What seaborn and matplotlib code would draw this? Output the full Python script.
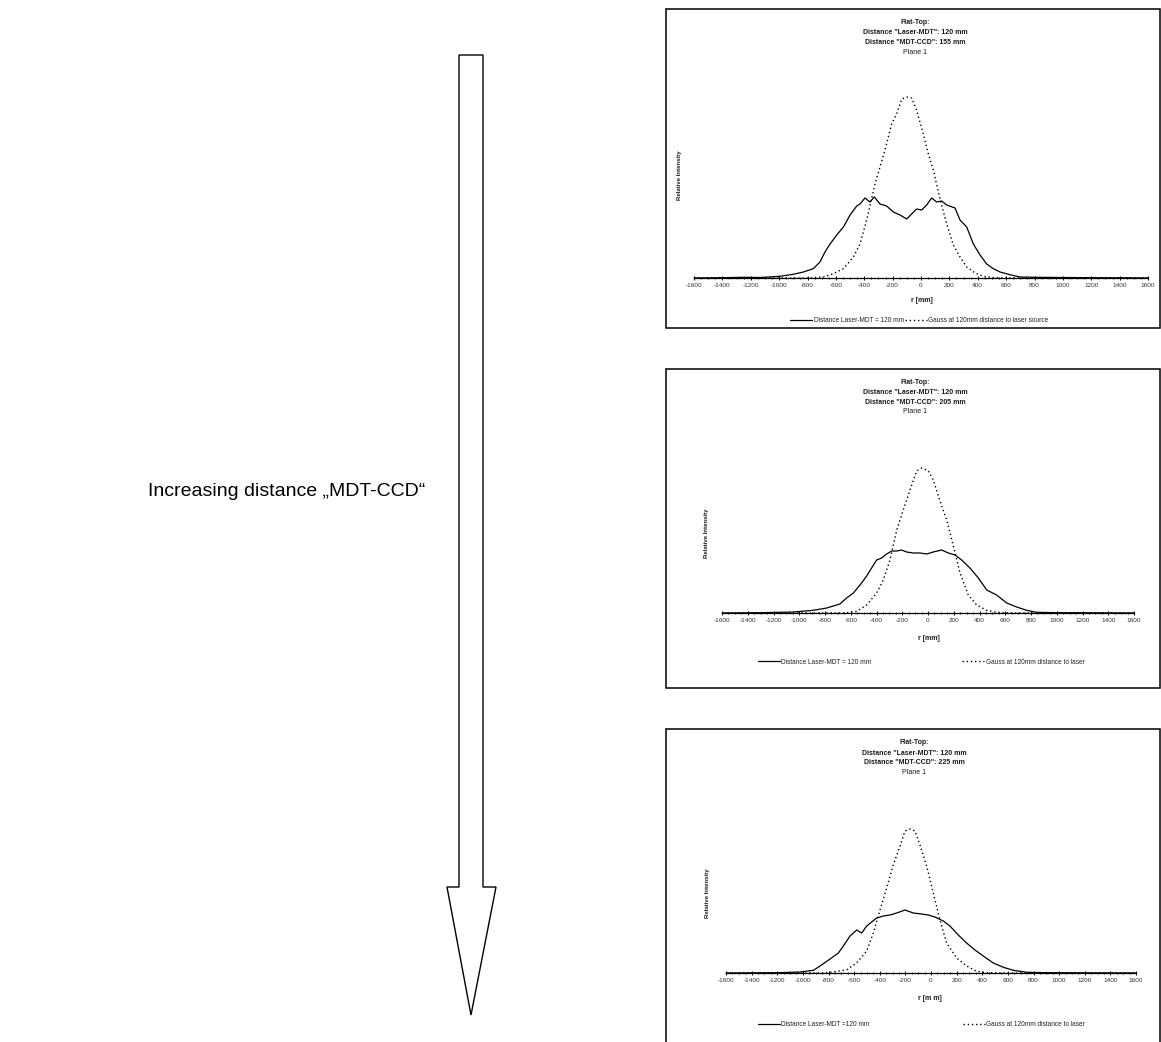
import numpy as np
import pandas as pd
import matplotlib
matplotlib.use("Agg")
import matplotlib.pyplot as plt
import seaborn as sns
from matplotlib.patches import Polygon, Rectangle
from matplotlib.ticker import MultipleLocator
from matplotlib.legend import Legend

# ---------------- data ----------------
# r [mm] and relative intensity (arbitrary units) per panel
p1_solid_r = [-1600, -1400, -1250, -1135, -994, -900, -829, -759, -712, -677, -641, -594, -547, -500,
              -453, -430, -395, -360, -329, -289, -242, -195, -148, -101, -66, -31, 5, 40, 75, 110,
              146, 181, 240, 275, 322, 369, 416, 463, 510, 557, 627, 698, 800, 1000, 1200, 1400, 1600]
p1_solid_i = [0, 0.3, 0.7, 0.5, 1.7, 3.7, 6, 9.3, 16, 26, 34, 43, 51, 63,
              72, 74, 80, 76, 81, 74, 72, 66, 63, 59, 64, 69, 68, 73, 80, 76,
              77, 73, 70, 58, 51, 34, 23, 14, 9.3, 6, 3.3, 1, 0.7, 0.5, 0.3, 0.2, 0]
p1_gauss_r = [-1600, -800, -688, -618, -547, -477, -430, -383, -324, -289, -254, -207, -172, -136,
              -101, -66, -31, 16, 52, 87, 134, 181, 228, 275, 322, 381, 439, 510, 600, 1600]
p1_gauss_i = [0, 0, 1, 4.3, 9.3, 21, 34, 58, 94, 111, 128, 154, 164, 179,
              181, 180, 168, 144, 124, 108, 79, 54, 33, 21, 11, 5, 1.7, 0.3, 0, 0]

p2_solid_r = [-1600, -1300, -1046, -891, -787, -684, -632, -580, -528, -476, -438, -399, -360, -321,
              -282, -243, -205, -166, -114, -62, -10, 41, 106, 158, 210, 261, 326, 391, 456, 533,
              611, 689, 766, 844, 1000, 1600]
p2_solid_i = [0, 0.3, 1, 2.7, 5, 9, 15, 20, 28, 37, 45, 53, 55, 59,
              62, 62, 63, 61, 60, 60, 59, 61, 63, 60, 58, 53, 45, 35, 23, 18,
              10, 6, 2.7, 0.7, 0.3, 0]
p2_gauss_r = [-1600, -650, -554, -476, -399, -347, -295, -243, -192, -140, -88, -49, 3, 41,
              93, 145, 197, 249, 313, 378, 456, 533, 650, 1600]
p2_gauss_i = [0, 0, 1.7, 8, 20, 33, 53, 83, 103, 123, 142, 145, 142, 133,
              112, 93, 67, 40, 18, 8, 2.7, 0.7, 0, 0]

p3_solid_r = [-1600, -1200, -1022, -918, -866, -788, -723, -684, -632, -580, -541, -502, -463, -424,
              -372, -320, -268, -203, -138, -73, -21, 31, 96, 148, 213, 278, 343, 408, 486, 565,
              643, 747, 900, 1600]
p3_solid_i = [0, 0.3, 1, 2.7, 7, 14, 20, 27, 37, 43, 40, 47, 51, 55,
              57, 58, 60, 63, 60, 59, 58, 56, 52, 47, 38, 30, 23, 17, 10, 5.7,
              2.7, 0.7, 0.3, 0]
p3_gauss_r = [-1600, -850, -762, -658, -580, -502, -450, -398, -346, -294, -242, -203, -164, -125,
              -86, -34, 18, 70, 122, 200, 278, 356, 434, 550, 1600]
p3_gauss_i = [0, 0, 1, 3.3, 10, 22, 40, 63, 85, 108, 127, 142, 144, 142,
              128, 107, 80, 53, 30, 15, 7, 1.7, 0.3, 0, 0]

mdt_ccd = ["155", "205", "225"]
solid_labels = ["Distance Laser-MDT = 120 mm", "Distance Laser-MDT = 120 mm", "Distance Laser-MDT =120 mm"]
gauss_labels = ["Gauss at 120mm distance to laser source", "Gauss at 120mm distance to laser",
                "Gauss at 120mm distance to laser"]
xlabels = ["r [mm]", "r [mm]", "r [m m]"]
xticks = list(range(-1600, 1601, 200))

# ---------------- figure ----------------
sns.set_theme(style="white")
plt.rcParams['font.family'] = ['Liberation Sans', 'DejaVu Sans']
plt.rcParams['axes.unicode_minus'] = False

W, H = 1161, 1042
fig = plt.figure(figsize=(W / 100, H / 100), dpi=100)
fig.patch.set_facecolor("white")


def fx(px):
    return px / W


def fy(py):
    return 1 - py / H


# layout (pixels): axis x0, x1, baseline y, top y, box top, box bottom,
# title y's, xlabel pos, ylabel pos, legend positions
layouts = [
    dict(x0=694, x1=1148, yb=278, yt=60, btop=9, bbot=328, tx=915, ty=[22.7, 32.7, 42.3, 52],
         xl=(922, 301), yl=(679, 175), leg1=(790, 321), leg2=(905, 321)),
    dict(x0=722, x1=1134, yb=613, yt=440, btop=369, bbot=688, tx=915, ty=[382.7, 392.7, 402.3, 411.7],
         xl=(929, 638), yl=(707, 533), leg1=(758, 662), leg2=(962, 662)),
    dict(x0=726, x1=1136, yb=973, yt=800, btop=729, bbot=1080, tx=914, ty=[742.7, 753.3, 762.3, 772],
         xl=(930, 998), yl=(708, 893), leg1=(758, 1025), leg2=(963, 1025)),
]

series = [
    (p1_solid_r, p1_solid_i, p1_gauss_r, p1_gauss_i),
    (p2_solid_r, p2_solid_i, p2_gauss_r, p2_gauss_i),
    (p3_solid_r, p3_solid_i, p3_gauss_r, p3_gauss_i),
]

dot_style = (0, (1, 2))
txt_col = "#1a1a1a"

for k, (lay, (sr, si, gr, gi)) in enumerate(zip(layouts, series)):
    # panel frame
    fig.add_artist(Rectangle((fx(666), fy(lay["bbot"])), fx(1160) - fx(666),
                             (lay["bbot"] - lay["btop"]) / H, transform=fig.transFigure,
                             fill=False, edgecolor="black", lw=1.1))
    ax = fig.add_axes([fx(lay["x0"]), fy(lay["yb"]), fx(lay["x1"]) - fx(lay["x0"]),
                       (lay["yb"] - lay["yt"]) / H])
    ax.set_facecolor("none")
    df_s = pd.DataFrame({"r": sr, "I": si})
    df_g = pd.DataFrame({"r": gr, "I": gi})
    sns.lineplot(data=df_s, x="r", y="I", ax=ax, color="black", lw=0.9, estimator=None, sort=False)
    sns.lineplot(data=df_g, x="r", y="I", ax=ax, color="black", lw=1.0, estimator=None, sort=False,
                 linestyle=dot_style)
    for ln in ax.lines:
        ln.set_clip_on(False)
    ax.set_xlim(-1600, 1600)
    ax.set_ylim(0, lay["yb"] - lay["yt"])
    ax.set_xticks(xticks)
    ax.set_xticklabels([str(t) for t in xticks])
    ax.xaxis.set_minor_locator(MultipleLocator(50))
    ax.tick_params(axis="x", which="major", direction="inout", length=3.4, width=0.7,
                   labelsize=4.6, pad=2.2, labelcolor="#333333", color="black", bottom=True)
    ax.tick_params(axis="x", which="minor", direction="inout", length=1.6, width=0.6,
                   color="black", bottom=True)
    ax.set_yticks([])
    ax.set_xlabel("")
    ax.set_ylabel("")
    for s in ["left", "top", "right"]:
        ax.spines[s].set_visible(False)
    ax.spines["bottom"].set_color("black")
    ax.spines["bottom"].set_linewidth(0.9)

    # titles
    t_lines = ["Flat-Top:", 'Distance "Laser-MDT": 120 mm', f'Distance "MDT-CCD": {mdt_ccd[k]} mm', "Plane 1"]
    for j, (t, yy) in enumerate(zip(t_lines, lay["ty"])):
        fig.text(fx(lay["tx"]), fy(yy), t, ha="center", va="center", fontsize=5,
                 fontweight="bold" if j < 3 else "normal", color=txt_col)
    fig.text(fx(lay["xl"][0]), fy(lay["xl"][1]), xlabels[k], ha="center", va="center",
             fontsize=5, fontweight="bold", color=txt_col)
    fig.text(fx(lay["yl"][0]), fy(lay["yl"][1]), "Relative Intensity", ha="center", va="center",
             rotation=90, fontsize=4.3, fontweight="bold", color=txt_col)

    # legends
    for (h, lab, pos) in [(ax.lines[0], solid_labels[k], lay["leg1"]),
                          (ax.lines[1], gauss_labels[k], lay["leg2"])]:
        lg = Legend(ax, [h], [lab], loc="center left", bbox_to_anchor=(fx(pos[0]), fy(pos[1])),
                    bbox_transform=fig.transFigure, frameon=False, fontsize=4.7,
                    handlelength=3.3, handletextpad=0.3, borderpad=0, borderaxespad=0)
        for t in lg.get_texts():
            t.set_color("#222222")
        ax.add_artist(lg)

# big arrow
arrow_px = [(459, 55), (483, 55), (483, 887), (496, 887), (471, 1015), (447, 887), (459, 887)]
fig.add_artist(Polygon([(fx(x), fy(y)) for x, y in arrow_px], closed=True, transform=fig.transFigure,
                       facecolor="white", edgecolor="black", lw=1.0))

fig.text(fx(148), fy(496), "Increasing distance „MDT-CCD“", fontsize=14, ha="left", va="baseline",
         color="black")

fig.savefig("out.png", dpi=100)
